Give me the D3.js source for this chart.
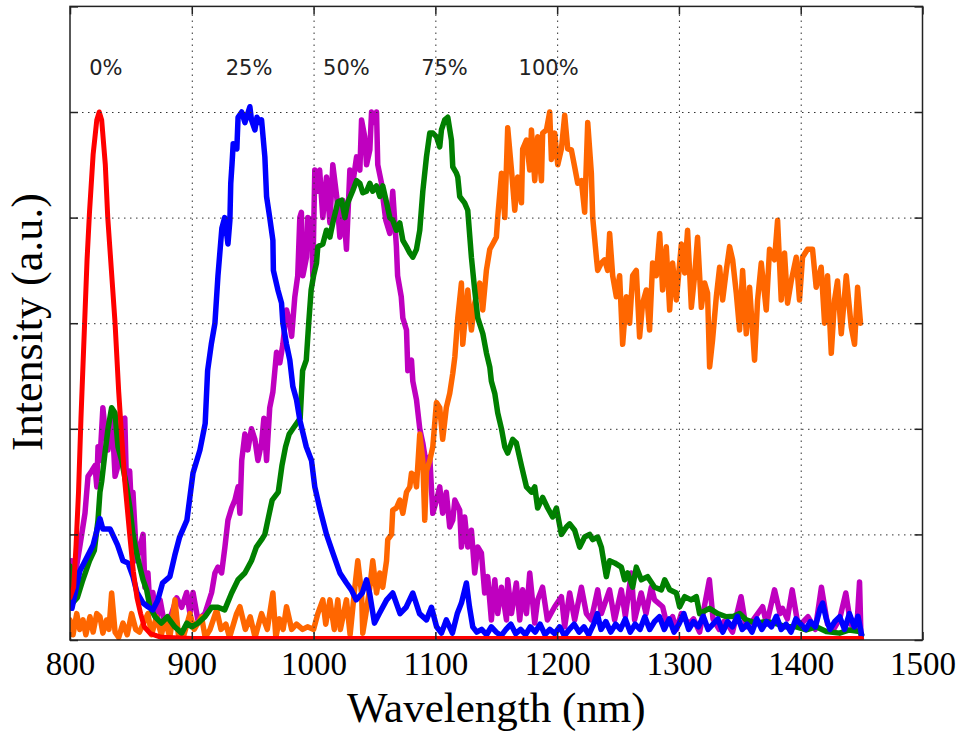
<!DOCTYPE html>
<html>
<head>
<meta charset="utf-8">
<script src="https://cdn.jsdelivr.net/npm/d3@7"></script>
<style>
  body { margin: 0; background: #fff; }
  .tick text { font-family: "Liberation Serif", "Times New Roman", serif; font-size: 33px; fill: #000; }
  .title { font-family: "Liberation Serif", "Times New Roman", serif; fill: #000; }
  .pct { font-family: "DejaVu Sans", sans-serif; font-size: 21px; fill: #222; }
</style>
</head>
<body>
<div id="chart"></div>
<script>
// x ticks and y ticks (y has no labels)
const xTicks = [800, 900, 1000, 1100, 1200, 1300, 1400, 1500];
const yTicks = [0, 0.2, 0.4, 0.6, 0.8, 1.0, 1.2];

// peak labels
const labelText = ['0%', '25%', '50%', '75%', '100%'];
const labelWavelength = [829.5, 947, 1027, 1107.5, 1193];
const labelLevel = 1.07;

// spectra, [wavelength nm, intensity]
const spec0 = [[800,.08],[803,.1],[805,.18],[807,.28],[809,.42],[812,.6],[814,.72],[816,.81],[819,.92],[822,.985],[824,1.0],[826,.985],[829,.9],[831,.8],[834,.7],[837,.6],[840,.47],[842,.4],[845,.3],[849,.2],[852,.13],[855,.08],[858,.05],[861,.025],[866,.012],[875,.005],[900,.003],[1450,.003]];

const spec25 = [[801.6,.06],[808,.13],[814,.157],[819,.18],[824.6,.23],[827,.21],[833,.21],[839,.18],[843.5,.15],[847.6,.146],[851.7,.12],[855,.09],[860,.07],[864,.063],[868,.057],[872,.075],[876,.108],[882,.12],[886,.16],[890,.195],[896,.227],[901,.316],[906.7,.36],[911,.41],[913,.51],[916,.56],[919,.60],[921.5,.69],[924.7,.78],[927,.80],[929.7,.75],[931.3,.795],[932,.865],[933,.90],[934,.94],[937,.93],[938,.99],[941,1.0],[943.6,.98],[947.7,1.01],[949,.985],[951.8,.966],[953.5,.99],[956,.98],[957.3,.985],[960,.915],[961.4,.84],[964,.80],[966.6,.757],[967,.70],[970.7,.663],[973.7,.638],[974.8,.60],[977.8,.56],[980.5,.53],[983,.48],[986,.455],[988.7,.417],[994,.366],[998.3,.34],[1001,.29],[1005,.25],[1010.6,.20],[1015.8,.165],[1021.6,.127],[1027,.108],[1031,.095],[1035,.076],[1040,.089],[1043.5,.114],[1046,.089],[1050,.032],[1054,.05],[1060,.076],[1065,.089],[1071,.05],[1076,.062],[1081.5,.089],[1087,.05],[1092.7,.038],[1096.8,.062],[1101,.025],[1105,.013],[1109,.038],[1114,.013],[1118,.05],[1121.4,.07],[1125.5,.108],[1128,.063],[1130.7,.025],[1134,.015],[1138,.02],[1142,.01],[1146,.025],[1150,.015],[1154,.008],[1158,.02],[1162,.03],[1166,.012],[1170,.02],[1174,.01],[1178,.025],[1182,.015],[1186,.03],[1190,.01],[1194,.02],[1198,.012],[1202,.025],[1206,.008],[1210,.02],[1214,.03],[1218,.015],[1222,.025],[1226,.01],[1230,.03],[1233,.05],[1236,.02],[1240,.035],[1244,.015],[1248,.03],[1252,.02],[1256,.04],[1260,.015],[1264,.03],[1268,.02],[1272,.044],[1276,.02],[1280,.035],[1284,.044],[1288,.02],[1292,.04],[1296,.015],[1300,.03],[1304,.05],[1308,.02],[1312,.035],[1316,.025],[1320,.045],[1324,.02],[1328,.03],[1332,.04],[1336,.015],[1340,.035],[1344,.025],[1348,.045],[1352,.02],[1356,.03],[1360,.015],[1364,.04],[1368,.02],[1372,.035],[1376,.025],[1380,.045],[1384,.02],[1388,.03],[1392,.015],[1396,.04],[1400,.03],[1404,.02],[1408,.035],[1412,.025],[1416,.06],[1418,.07],[1421,.04],[1424,.02],[1428,.035],[1432,.044],[1436,.02],[1440,.05],[1444,.025],[1447,.045],[1450,.01]];

const spec50 = [[801.4,.15],[804,.12],[808,.176],[812.3,.24],[814.8,.31],[817.8,.32],[820.5,.33],[822,.29],[823,.366],[824.6,.34],[827,.44],[828.7,.40],[831.2,.36],[834.2,.435],[837,.31],[839.4,.33],[842.4,.417],[845,.42],[846.5,.28],[849,.32],[850.6,.24],[851.7,.28],[854.7,.15],[857.4,.176],[860,.20],[861.5,.10],[864,.127],[865.6,.063],[868,.09],[871,.038],[874,.076],[878,.025],[883.5,.05],[887.6,.08],[891.7,.062],[895.8,.09],[898.5,.05],[901,.09],[905,.038],[910.8,.05],[916.3,.09],[919,.127],[921.5,.138],[924.5,.127],[927.2,.176],[929.7,.227],[932.7,.25],[935.4,.265],[938,.29],[939.5,.24],[941,.34],[943.6,.39],[946,.36],[949,.40],[951.8,.38],[954.3,.34],[957.3,.373],[959.2,.42],[961.4,.34],[964,.44],[966.6,.47],[969.6,.545],[972.3,.525],[974.8,.56],[977.8,.625],[980.5,.60],[982,.575],[984.6,.65],[987,.69],[988.7,.80],[990,.81],[991.2,.69],[994.2,.725],[995.3,.80],[998.3,.795],[999.4,.69],[1001,.89],[1003.5,.85],[1005,.89],[1007.6,.80],[1010.6,.877],[1013.4,.79],[1015.8,.90],[1019,.84],[1021.6,.763],[1024,.833],[1027,.74],[1029.8,.89],[1032.2,.865],[1035.3,.915],[1038,.89],[1039.4,.985],[1042,.953],[1043.5,.90],[1046.2,.928],[1047.6,1.0],[1050.3,.98],[1051.7,1.0],[1052.7,.90],[1055.8,.865],[1056.8,.84],[1059.3,.795],[1062.6,.77],[1065,.85],[1068,.745],[1069,.69],[1072,.65],[1073.3,.61],[1076.3,.587],[1077.4,.51],[1080.4,.53],[1081.5,.49],[1084.5,.455],[1087.2,.40],[1089.7,.373],[1092.7,.33],[1095.4,.347],[1097.9,.24],[1101,.265],[1103.6,.29],[1106,.24],[1109,.28],[1111.8,.214],[1114.3,.227],[1116,.265],[1120,.246],[1121.4,.176],[1124.1,.233],[1126.6,.176],[1129.6,.208],[1132.3,.127],[1134.8,.176],[1137.8,.165],[1140.5,.089],[1143,.12],[1146,.038],[1148.8,.114],[1151.2,.05],[1154.3,.10],[1158.4,.038],[1159.4,.114],[1162.5,.05],[1166.5,.108],[1169.3,.038],[1171.7,.095],[1174.8,.05],[1177.5,.127],[1181.6,.032],[1184,.076],[1188,.10],[1192,.038],[1198,.063],[1203.5,.082],[1206.2,.025],[1210.3,.089],[1214.4,.038],[1219.9,.10],[1224,.05],[1228,.038],[1233.3,.095],[1236.3,.05],[1243,.095],[1247.2,.038],[1252.7,.095],[1256,.045],[1260.9,.127],[1263.6,.038],[1269,.089],[1273,.05],[1277.3,.10],[1280,.076],[1286.6,.063],[1290,.03],[1294.8,.044],[1298,.02],[1302,.05],[1308,.03],[1312,.04],[1317,.015],[1325,.114],[1328,.04],[1333,.02],[1337,.035],[1340,.03],[1344,.015],[1351,.082],[1355,.025],[1360,.035],[1368.7,.063],[1372,.03],[1378.5,.095],[1383,.05],[1385,.06],[1389,.04],[1393,.095],[1398,.025],[1406,.044],[1412,.02],[1417,.10],[1422,.03],[1427,.02],[1432,.04],[1437,.089],[1441,.03],[1446,.02],[1448.3,.11],[1449.5,.005]];

const spec75 = [[800,.14],[802,.07],[806,.08],[810,.11],[816,.15],[820,.17],[823,.227],[824.6,.28],[826,.30],[828.7,.354],[831.2,.40],[834.2,.44],[837,.43],[839.4,.366],[842.4,.34],[846.5,.29],[849.2,.25],[851.7,.20],[854.7,.165],[857.4,.138],[860,.114],[862.9,.095],[865.6,.063],[869.8,.044],[875,.032],[880,.044],[886,.025],[891.7,.013],[896,.032],[900,.025],[905,.032],[910.8,.044],[916.3,.062],[921.5,.062],[927,.057],[932.7,.089],[938,.114],[943.6,.127],[949,.15],[953,.176],[957.3,.19],[960,.20],[963,.233],[966,.265],[971,.28],[974,.33],[977,.366],[980,.39],[983,.40],[986,.41],[989,.42],[991,.51],[994,.53],[996,.60],[998,.663],[1000,.69],[1002.4,.714],[1003.5,.745],[1007.6,.75],[1010.6,.776],[1013.4,.763],[1015.8,.79],[1020,.83],[1023,.833],[1025.7,.80],[1028,.828],[1032,.85],[1035.3,.87],[1038,.865],[1040.4,.847],[1043.5,.85],[1046.2,.865],[1048.6,.85],[1051.7,.86],[1054.4,.84],[1056.8,.86],[1060,.828],[1062.6,.80],[1065,.795],[1068,.776],[1070.8,.79],[1073.3,.757],[1076.3,.745],[1079,.733],[1081.5,.725],[1084.5,.74],[1087.2,.776],[1089.7,.85],[1092.7,.915],[1095.4,.96],[1098,.96],[1101,.953],[1103.6,.934],[1105,.966],[1107.7,.985],[1110.2,.99],[1113.2,.947],[1114.3,.896],[1117.3,.884],[1118.4,.877],[1120,.84],[1124,.828],[1126.6,.814],[1129.6,.725],[1132.3,.663],[1134.8,.61],[1139,.58],[1142,.543],[1144.7,.517],[1146,.49],[1148.8,.467],[1151.2,.43],[1154.3,.40],[1157,.366],[1159.4,.354],[1163.5,.38],[1166.5,.373],[1170.7,.33],[1174.8,.29],[1178.9,.28],[1181.6,.29],[1184,.25],[1188.1,.27],[1192.2,.25],[1196.3,.233],[1199.4,.25],[1203.5,.20],[1207.6,.214],[1210.3,.22],[1214.4,.208],[1218.5,.176],[1222.6,.195],[1226.7,.20],[1229.2,.19],[1233.3,.195],[1236.3,.176],[1240.4,.12],[1243.1,.15],[1247.2,.146],[1252.7,.138],[1255.4,.114],[1257.9,.127],[1262,.10],[1265,.138],[1269.1,.114],[1274.3,.12],[1280,.10],[1285.6,.095],[1288.3,.114],[1292.4,.095],[1297.9,.089],[1300.6,.063],[1304.7,.082],[1310,.076],[1314.3,.082],[1317,.05],[1325,.06],[1331.8,.05],[1338.9,.044],[1345,.045],[1349.8,.05],[1355.3,.038],[1363.5,.032],[1371.7,.035],[1378.5,.032],[1388,.025],[1396.3,.025],[1404.5,.019],[1412.7,.025],[1421,.016],[1431.9,.013],[1440,.019],[1448.3,.016],[1450,.01]];

const spec100 = [[800,.038],[802.5,.01],[805.5,.05],[808,.02],[810.7,.038],[813,.01],[816.4,.044],[819,.015],[822,.05],[824.6,.044],[827,.013],[830,.038],[832,.02],[834.2,.089],[837,.015],[840,.005],[843.5,.032],[847,.01],[850.6,.05],[854,.02],[857,.015],[864,.05],[867,.01],[871,.044],[875,.01],[878,.038],[882,.005],[886.2,.076],[889,.01],[893,.005],[898.5,.05],[902,.02],[908,.044],[911,.005],[915,.02],[920.4,.057],[924,.02],[928,.03],[931,.005],[936.8,.05],[939.5,.063],[944,.02],[948,.044],[952,.005],[957.3,.05],[962,.02],[966.6,.089],[969,.005],[972,.04],[975,.02],[977.8,.063],[982,.02],[986,.03],[991,.02],[995,.025],[1000,.02],[1003.5,.05],[1007.6,.076],[1010,.03],[1013.4,.076],[1017,.02],[1019.9,.076],[1022,.02],[1027,.076],[1030,.01],[1033.9,.10],[1036.3,.15],[1039.4,.089],[1040.4,.013],[1043,.05],[1046.2,.10],[1048.6,.15],[1051.7,.089],[1054.4,.127],[1056.8,.10],[1059.9,.15],[1060.9,.19],[1064,.20],[1065,.246],[1068,.25],[1070.8,.265],[1073.3,.24],[1076.3,.28],[1079,.29],[1080.4,.316],[1083.1,.31],[1084.5,.29],[1087.2,.39],[1089.7,.34],[1091.3,.227],[1092.7,.32],[1095.4,.34],[1097.9,.366],[1100.9,.45],[1103.6,.44],[1106,.38],[1109,.44],[1111.8,.467],[1114.3,.505],[1116,.536],[1118.4,.61],[1121.4,.676],[1122.5,.56],[1126.6,.663],[1129.6,.587],[1132.3,.638],[1136.4,.676],[1138.9,.625],[1141.9,.70],[1144.7,.74],[1147.1,.75],[1150.1,.763],[1151.2,.80],[1154.3,.884],[1157,.80],[1159.4,.97],[1162.5,.89],[1165.2,.814],[1167.6,.877],[1170.7,.828],[1171.7,.93],[1174.8,.947],[1177.5,.89],[1178.9,.966],[1181.6,.87],[1184,.953],[1187.1,.87],[1188.1,.96],[1191.2,.966],[1193.9,1.0],[1195.3,.91],[1198,.96],[1200.5,.90],[1203.5,.93],[1206.2,.994],[1208.7,.93],[1211.7,.928],[1214.4,.896],[1216.9,.865],[1219.9,.87],[1222.6,.81],[1225.1,.98],[1228.1,.884],[1229.2,.80],[1232.2,.725],[1233.3,.70],[1236.3,.714],[1239,.72],[1241.5,.70],[1243.1,.77],[1245.6,.69],[1248.6,.65],[1251.3,.69],[1253.8,.56],[1256.8,.65],[1259.5,.60],[1262,.69],[1265,.70],[1267.7,.574],[1270.2,.638],[1273.2,.663],[1275.9,.587],[1278.4,.714],[1281.4,.69],[1284.2,.77],[1286.6,.663],[1289.6,.745],[1292.4,.625],[1294.8,.714],[1297.9,.644],[1302,.75],[1304.7,.695],[1307.1,.776],[1310.2,.63],[1312.9,.69],[1315.3,.763],[1318.4,.63],[1321.1,.676],[1323.5,.657],[1325.2,.517],[1327.6,.568],[1330.7,.65],[1333.4,.706],[1335.9,.644],[1338.9,.70],[1341.6,.745],[1344.1,.72],[1347.1,.657],[1349.8,.587],[1352.3,.70],[1355.3,.58],[1358,.668],[1362.1,.53],[1364.6,.644],[1367.6,.714],[1371.7,.625],[1374.4,.74],[1378.5,.72],[1381,.795],[1384,.644],[1386.7,.733],[1389.2,.638],[1392.2,.68],[1396.3,.725],[1399,.644],[1401.5,.725],[1405.6,.74],[1409.7,.74],[1412.7,.668],[1416.8,.706],[1419.6,.60],[1422,.69],[1425.1,.543],[1427.8,.644],[1430.2,.68],[1433.3,.58],[1437.4,.69],[1441.5,.593],[1444.2,.56],[1446.7,.668],[1449.1,.60]];

// set margin
const margin = {top: 6.4, right: 38.5, bottom: 92, left: 70};
const width = 961 - margin.left - margin.right,
    height = 732 - margin.top - margin.bottom;

const svg = d3.select('#chart').append('svg')
    .attr('width', 961)
    .attr('height', 732)
    .append('g')
    .attr('transform', 'translate(' + margin.left + ',' + margin.top + ')');

const x = d3.scaleLinear().domain([800, 1500]).range([0, width]);
const y = d3.scaleLinear().domain([0, 1.2]).range([height, 0]);

svg.append('clipPath').attr('id', 'plotClip')
    .append('rect').attr('width', width).attr('height', height);

// spectra, drawn back to front
const line = d3.line().x(d => x(d[0])).y(d => y(d[1]));
const drawOrder = [
    {data: spec50, color: '#bf00bf', w: 5.5},
    {data: spec100, color: '#ff6600', w: 5.5},
    {data: spec75, color: '#008000', w: 5.5},
    {data: spec25, color: '#0000ff', w: 5.5},
    {data: spec0, color: '#ff0000', w: 5}
];
const lines = svg.append('g').attr('clip-path', 'url(#plotClip)');
drawOrder.forEach(function (s) {
    lines.append('path')
        .datum(s.data)
        .attr('d', line)
        .attr('fill', 'none')
        .attr('stroke', s.color)
        .attr('stroke-width', s.w)
        .attr('stroke-linejoin', 'round')
        .attr('stroke-linecap', 'round');
});

// dotted grid on top
svg.append('g')
    .attr('transform', 'translate(0,' + height + ')')
    .call(d3.axisBottom(x).tickValues(xTicks.slice(1, -1)).tickSize(-height).tickFormat(''))
    .call(g => g.select('.domain').remove())
    .selectAll('line')
    .attr('stroke', '#333').attr('stroke-width', 1).attr('stroke-dasharray', '1.5,4.5');

svg.append('g')
    .call(d3.axisLeft(y).tickValues(yTicks.slice(1, -1)).tickSize(-width).tickFormat(''))
    .call(g => g.select('.domain').remove())
    .selectAll('line')
    .attr('stroke', '#333').attr('stroke-width', 1).attr('stroke-dasharray', '1.5,4.5');

// inside ticks on all four sides
svg.append('g')
    .attr('transform', 'translate(0,' + height + ')')
    .call(d3.axisBottom(x).tickValues(xTicks).tickSizeInner(-8).tickSizeOuter(0).tickPadding(12).tickFormat(d3.format('d')));
svg.append('g')
    .call(d3.axisTop(x).tickValues(xTicks).tickSizeInner(-8).tickSizeOuter(0).tickFormat(''));
svg.append('g')
    .call(d3.axisLeft(y).tickValues(yTicks).tickSizeInner(-8).tickSizeOuter(0).tickFormat(''));
svg.append('g')
    .attr('transform', 'translate(' + width + ',0)')
    .call(d3.axisRight(y).tickValues(yTicks).tickSizeInner(-8).tickSizeOuter(0).tickFormat(''));

svg.selectAll('.domain').remove();
svg.selectAll('.tick line').filter(function () { return !this.getAttribute('stroke-dasharray'); })
    .attr('stroke', '#222').attr('stroke-width', 1.5);

// frame
svg.append('rect')
    .attr('width', width).attr('height', height)
    .attr('fill', 'none').attr('stroke', '#222').attr('stroke-width', 1.5);

// peak labels
svg.selectAll('.pct')
    .data(labelText)
    .enter()
    .append('text')
    .attr('class', 'pct')
    .attr('x', (d, i) => x(labelWavelength[i]))
    .attr('y', y(labelLevel))
    .attr('text-anchor', 'middle')
    .text(d => d);

// axis titles
svg.append('text')
    .attr('class', 'title')
    .attr('x', width / 2)
    .attr('y', 722 - margin.top)
    .attr('text-anchor', 'middle')
    .style('font-size', '43px')
    .text('Wavelength (nm)');

svg.append('text')
    .attr('class', 'title')
    .attr('transform', 'rotate(-90)')
    .attr('x', -(322 - margin.top))
    .attr('y', 42 - margin.left)
    .attr('text-anchor', 'middle')
    .style('font-size', '44px')
    .text('Intensity (a.u.)');
</script>
</body>
</html>
